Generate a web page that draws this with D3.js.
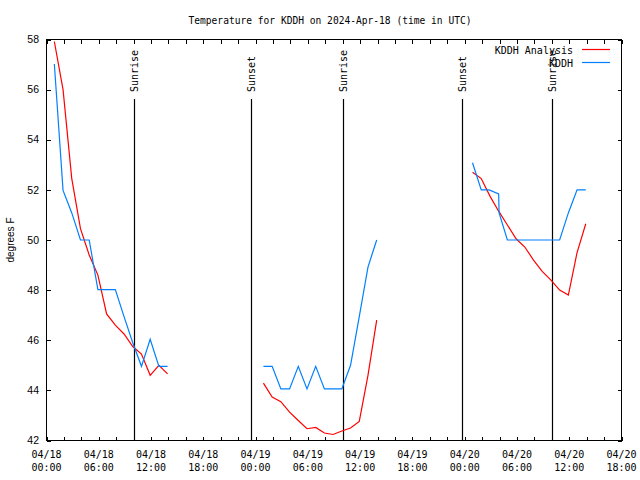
<!DOCTYPE html>
<html>
<head>
<meta charset="utf-8">
<script src="https://cdn.jsdelivr.net/npm/d3@7"></script>
<style>
  body { margin: 0; background: #fff; }
  svg { display: block; }
</style>
</head>
<body>
<svg id="chart" width="640" height="480"></svg>
<script>
// ---- data (hours after 2024-04-18 00:00 UTC) ----
const analysisHours = [0.9, 1.9, 2.9, 3.9, 4.9, 5.9, 6.9, 7.9, 8.9, 9.9, 10.9, 11.9, 12.9, 13.9,
  24.9, 25.9, 26.9, 27.9, 28.9, 29.9, 30.9, 31.9, 32.9, 33.9, 34.9, 35.9, 36.9, 37.9,
  48.9, 49.9, 50.9, 51.9, 52.9, 53.9, 54.9, 55.9, 56.9, 57.9, 58.9, 59.9, 60.9, 61.9];
const analysisTemps = [57.92, 56.0, 52.45, 50.45, 49.4, 48.6, 47.05, 46.6, 46.25, 45.75, 45.45, 44.6, 45.0, 44.66,
  44.29, 43.73, 43.55, 43.13, 42.8, 42.47, 42.52, 42.3, 42.24, 42.38, 42.5, 42.76, 44.6, 46.8,
  52.7, 52.45, 51.75, 51.15, 50.6, 50.05, 49.72, 49.2, 48.75, 48.4, 48.0, 47.8, 49.5, 50.65];

const obsHours = [0.9, 1.9, 2.9, 3.9, 4.9, 5.9, 6.9, 7.9, 8.9, 9.9, 10.9, 11.9, 12.9, 13.9,
  24.9, 25.9, 26.9, 27.9, 28.9, 29.9, 30.9, 31.9, 32.9, 33.9, 34.9, 35.9, 36.9, 37.9,
  48.9, 49.9, 50.8, 51.9, 51.95, 52.9, 53.9, 54.9, 55.9, 56.9, 57.9, 58.9, 59.9, 60.9, 61.9];
const obsTemps = [57.02, 51.98, 51.08, 50.0, 50.0, 48.02, 48.02, 48.02, 46.94, 45.9, 44.96, 46.04, 44.96, 44.96,
  44.96, 44.96, 44.06, 44.06, 44.96, 44.06, 44.96, 44.06, 44.06, 44.06, 45.0, 46.94, 48.92, 50.0,
  53.08, 52.0, 52.0, 51.84, 51.08, 50.0, 50.0, 50.0, 50.0, 50.0, 50.0, 50.0, 51.08, 52.0, 52.0];

const sunLabels = ["Sunrise", "Sunset", "Sunrise", "Sunset", "Sunrise"];
const sunHours = [10.08, 23.52, 34.07, 47.65, 58.04];

const yTicks = [42, 44, 46, 48, 50, 52, 54, 56, 58];
const seriesNames = ["KDDH Analysis", "KDDH"];
const seriesColors = ["#ff0000", "#0080ff"];
const titleText = "Temperature for KDDH on 2024-Apr-18 (time in UTC)";
const yLabel = "degrees F";

// ---- helpers ----
const t0 = Date.UTC(2024, 3, 18, 0, 0);
const toDate = h => new Date(t0 + h * 3600 * 1000);
const mono = "'DejaVu Sans Mono', monospace";
const sans = "'Liberation Sans', Arial, sans-serif";

const svg = d3.select("#chart");
const L = 46.5, R = 621.5, T = 39.5, B = 440.5;

const x = d3.scaleUtc().domain([toDate(0), toDate(66)]).range([L, R]);
const y = d3.scaleLinear().domain([42, 58]).range([B, T]);

// split series into segments where time gap is large
function segments(hours, temps) {
  const segs = []; let cur = [];
  hours.forEach((h, i) => {
    if (cur.length && h - hours[i - 1] > 3) { segs.push(cur); cur = []; }
    cur.push({ t: toDate(h), v: temps[i] });
  });
  if (cur.length) segs.push(cur);
  return segs;
}

// title
svg.append("text").attr("x", 330).attr("y", 23.5).attr("text-anchor", "middle")
  .style("font-family", mono).style("font-size", "9.6px").text(titleText);

// y label
svg.append("text").attr("transform", "translate(14,240) rotate(-90)")
  .attr("text-anchor", "middle").style("font-family", sans).style("font-size", "10px").text(yLabel);

// axes ticks (inward, mirrored)
const xTickVals = d3.utcHour.every(2).range(toDate(0), toDate(66.01));
const axB = d3.axisBottom(x).tickValues(xTickVals).tickSize(-4).tickFormat("");
const axT = d3.axisTop(x).tickValues(xTickVals).tickSize(-4).tickFormat("");
const axL = d3.axisLeft(y).tickValues(yTicks).tickSize(-4).tickFormat("");
const axR = d3.axisRight(y).tickValues(yTicks).tickSize(-4).tickFormat("");
[[axB, `translate(0,${B})`], [axT, `translate(0,${T})`], [axL, `translate(${L},0)`], [axR, `translate(${R},0)`]]
  .forEach(([ax, tr]) => {
    const g = svg.append("g").attr("transform", tr).call(ax);
    g.select(".domain").remove();
    g.selectAll("line").attr("stroke", "#000").attr("shape-rendering", "crispEdges");
  });

// y tick labels
svg.append("g").selectAll("text").data(yTicks).join("text")
  .attr("x", 39).attr("y", d => y(d)).attr("dy", "0.35em").attr("text-anchor", "end")
  .style("font-family", sans).style("font-size", "10.5px").text(d => d);

// x tick labels every 6 hours
const xLabelTicks = d3.utcHour.every(6).range(toDate(0), toDate(66.01));
const fmtD = d3.utcFormat("%m/%d"), fmtT = d3.utcFormat("%H:%M");
const xl = svg.append("g").selectAll("g").data(xLabelTicks).join("g");
xl.append("text").attr("x", d => x(d)).attr("y", 457.5).attr("text-anchor", "middle")
  .style("font-family", mono).style("font-size", "10px").text(d => fmtD(d));
xl.append("text").attr("x", d => x(d)).attr("y", 470.5).attr("text-anchor", "middle")
  .style("font-family", mono).style("font-size", "10px").text(d => fmtT(d));

// sunrise/sunset lines
const sg = svg.append("g").selectAll("g").data(sunHours.map((h, i) => ({ h, label: sunLabels[i] }))).join("g");
sg.append("line")
  .attr("x1", d => Math.round(x(toDate(d.h))) + 0.5).attr("x2", d => Math.round(x(toDate(d.h))) + 0.5)
  .attr("y1", B).attr("y2", 99).attr("stroke", "#000").attr("stroke-width", 1.2);
sg.append("text")
  .attr("transform", d => `translate(${Math.round(x(toDate(d.h))) + 4},92) rotate(-90)`)
  .attr("text-anchor", "start").style("font-family", mono).style("font-size", "10px").text(d => d.label);

// series
const line = d3.line().x(d => x(d.t)).y(d => y(d.v));
const allSeries = [segments(analysisHours, analysisTemps), segments(obsHours, obsTemps)];
allSeries.forEach((segs, i) => {
  svg.append("g").selectAll("path").data(segs).join("path")
    .attr("d", line).attr("fill", "none").attr("stroke", seriesColors[i]).attr("stroke-width", 1.2);
});

// frame
svg.append("rect").attr("x", L).attr("y", T).attr("width", R - L).attr("height", B - T)
  .attr("fill", "none").attr("stroke", "#000").attr("shape-rendering", "crispEdges");

// legend
const lg = svg.append("g").selectAll("g").data(seriesNames).join("g");
lg.append("text").attr("x", 573).attr("y", (d, i) => 50 + i * 13).attr("dy", "0.35em")
  .attr("text-anchor", "end").style("font-family", mono).style("font-size", "10px").text(d => d);
lg.append("line").attr("x1", 582).attr("x2", 610)
  .attr("y1", (d, i) => 49.5 + i * 13).attr("y2", (d, i) => 49.5 + i * 13)
  .attr("stroke", (d, i) => seriesColors[i]).attr("stroke-width", 1.2);
</script>
</body>
</html>
